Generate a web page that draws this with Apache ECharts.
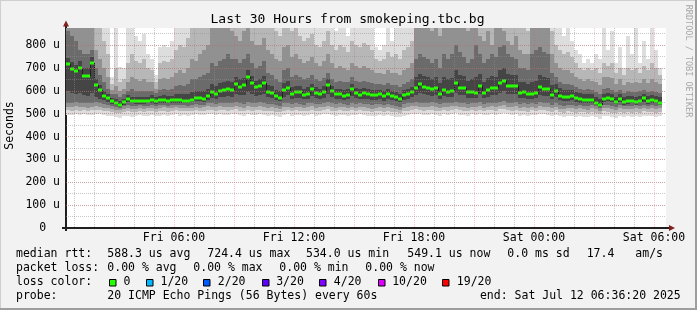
<!DOCTYPE html>
<html>
<head>
<meta charset="utf-8">
<title>smokeping.tbc.bg</title>
<script src="https://cdn.jsdelivr.net/npm/echarts@6.0.0/dist/echarts.min.js"></script>
<style>
  html, body { margin: 0; padding: 0; background: #f2f2f2; }
  #chart { width: 697px; height: 310px; }
</style>
</head>
<body>
<div id="chart"></div>
<script>
// x = minutes since Fri 00:00, one smoke column every 12 minutes
const viewStart = 36     // Fri 00:36
const viewEnd = 1836     // Sat 06:36
const stepMin = 12

// median rtt per column (us)
const median = [
  716, 694, 686, 700, 667, 667, 724, 624, 602, 579,
  569, 554, 547, 536, 550, 564, 557, 554, 554, 554,
  556, 562, 554, 560, 560, 557, 558, 558, 560, 557,
  557, 562, 570, 570, 564, 576, 595, 586, 598, 602,
  608, 605, 630, 619, 624, 661, 635, 616, 621, 633,
  594, 591, 579, 570, 602, 613, 586, 595, 594, 583,
  588, 607, 591, 585, 595, 626, 598, 585, 585, 577,
  582, 610, 591, 583, 589, 586, 583, 580, 585, 576,
  586, 579, 574, 566, 582, 586, 597, 613, 629, 619,
  614, 607, 613, 586, 605, 597, 600, 633, 614, 614,
  595, 595, 592, 621, 592, 604, 614, 611, 633, 642,
  621, 621, 621, 591, 595, 586, 586, 589, 617, 608,
  608, 582, 598, 579, 573, 573, 576, 569, 564, 562,
  562, 562, 549, 537, 564, 570, 564, 553, 566, 550,
  556, 557, 550, 557, 567, 556, 562, 557, 549
]

// smoke: spread of the 20 pings, outer pair (1) to inner pair (9), low / high
const low1 = [
  496, 494, 498, 495, 497, 493, 496, 500, 498, 494,
  490, 492, 486, 480, 488, 492, 485, 490, 495, 488,
  490, 494, 488, 492, 496, 490, 494, 497, 492, 495,
  490, 494, 498, 493, 496, 500, 497, 494, 498, 496,
  493, 497, 500, 495, 492, 498, 494, 496, 499, 495,
  490, 494, 488, 486, 495, 497, 492, 496, 494, 490,
  495, 498, 492, 494, 497, 500, 495, 492, 496, 494,
  490, 496, 493, 497, 494, 490, 488, 492, 495, 490,
  494, 490, 487, 484, 492, 495, 498, 500, 497, 494,
  496, 499, 495, 490, 497, 494, 498, 501, 496, 494,
  492, 497, 494, 499, 493, 496, 498, 494, 500, 502,
  497, 495, 498, 492, 494, 490, 496, 493, 499, 497,
  494, 490, 496, 488, 486, 492, 489, 485, 490, 487,
  484, 490, 486, 478, 492, 489, 486, 482, 490, 485,
  488, 485, 490, 486, 492, 488, 490, 486, 489
]
const high1 = [
  900, 900, 900, 900, 900, 900, 900, 900, 900, 900,
  900, 660, 900, 705, 700, 900, 900, 840, 820, 850,
  760, 740, 670, 790, 800, 790, 820, 900, 900, 900,
  900, 900, 900, 900, 900, 900, 900, 900, 900, 900,
  900, 900, 900, 900, 900, 900, 900, 900, 900, 900,
  900, 900, 900, 900, 900, 900, 900, 900, 900, 900,
  900, 900, 900, 900, 900, 900, 900, 860, 900, 900,
  840, 900, 900, 900, 900, 900, 900, 790, 780, 800,
  900, 820, 900, 900, 900, 900, 900, 900, 900, 900,
  900, 900, 900, 900, 900, 900, 900, 900, 900, 900,
  900, 900, 900, 900, 900, 900, 900, 900, 900, 900,
  900, 900, 900, 900, 900, 900, 900, 900, 900, 900,
  900, 900, 900, 880, 840, 900, 820, 780, 760, 720,
  740, 720, 760, 740, 880, 780, 860, 720, 790, 700,
  840, 760, 880, 720, 820, 740, 880, 780, 700
]
const low3 = [
  515, 513, 517, 514, 516, 512, 515, 518, 516, 512,
  510, 509, 505, 502, 508, 511, 506, 509, 512, 507,
  510, 513, 508, 511, 514, 509, 512, 515, 511, 513,
  510, 513, 516, 512, 514, 518, 516, 513, 517, 515,
  513, 516, 519, 514, 511, 517, 514, 515, 518, 514,
  510, 513, 508, 506, 514, 516, 511, 515, 513, 510,
  514, 517, 511, 513, 516, 519, 514, 511, 515, 513,
  510, 515, 512, 516, 513, 510, 507, 511, 514, 509,
  513, 509, 506, 503, 511, 514, 517, 519, 516, 513,
  515, 518, 514, 510, 516, 513, 517, 520, 515, 513,
  511, 516, 513, 518, 512, 515, 517, 513, 519, 521,
  516, 514, 517, 511, 513, 509, 515, 512, 518, 516,
  513, 509, 515, 507, 505, 511, 508, 504, 509, 506,
  503, 509, 505, 498, 511, 508, 505, 501, 509, 504,
  507, 504, 509, 505, 511, 507, 509, 505, 508
]
const high3 = [
  900, 900, 900, 900, 900, 900, 900, 900, 880, 820,
  760, 630, 700, 640, 650, 720, 760, 730, 720, 740,
  700, 690, 640, 720, 730, 725, 740, 780, 800, 790,
  830, 900, 880, 900, 900, 900, 900, 900, 900, 900,
  900, 900, 900, 900, 900, 900, 900, 900, 900, 900,
  900, 880, 860, 840, 900, 900, 860, 880, 840, 820,
  830, 850, 800, 790, 820, 860, 800, 780, 800, 790,
  770, 820, 800, 790, 810, 800, 780, 740, 730, 740,
  770, 750, 760, 740, 780, 790, 820, 900, 900, 900,
  900, 900, 900, 900, 900, 900, 900, 900, 900, 900,
  900, 900, 900, 900, 900, 900, 900, 900, 900, 900,
  900, 900, 900, 880, 880, 860, 900, 900, 900, 900,
  900, 860, 800, 780, 760, 770, 750, 720, 700, 690,
  700, 690, 700, 680, 720, 710, 720, 680, 700, 670,
  700, 690, 700, 680, 710, 690, 720, 700, 670
]
const low5 = [
  530, 528, 532, 530, 531, 527, 530, 534, 531, 527,
  524, 522, 518, 515, 521, 525, 520, 522, 526, 521,
  524, 527, 522, 525, 528, 523, 526, 529, 525, 527,
  524, 527, 530, 526, 529, 533, 531, 528, 532, 530,
  528, 531, 534, 529, 526, 532, 529, 530, 533, 529,
  525, 528, 523, 521, 529, 531, 526, 530, 528, 525,
  529, 532, 526, 528, 531, 534, 529, 526, 530, 528,
  525, 530, 527, 531, 528, 525, 522, 526, 529, 524,
  528, 524, 521, 518, 526, 529, 532, 534, 531, 528,
  530, 533, 529, 525, 531, 528, 532, 535, 530, 528,
  526, 531, 528, 533, 527, 530, 532, 528, 534, 536,
  531, 529, 532, 526, 528, 524, 530, 527, 533, 531,
  528, 524, 530, 522, 520, 526, 523, 519, 524, 521,
  518, 524, 520, 512, 526, 523, 520, 516, 524, 519,
  522, 519, 524, 520, 526, 522, 524, 520, 523
]
const high5 = [
  900, 900, 900, 900, 900, 900, 900, 780, 740, 700,
  660, 605, 620, 600, 610, 640, 660, 650, 645, 650,
  640, 640, 610, 650, 655, 650, 660, 680, 690, 680,
  700, 740, 730, 760, 780, 800, 900, 880, 900, 900,
  900, 860, 840, 820, 860, 880, 820, 800, 800, 830,
  780, 760, 740, 730, 790, 800, 750, 760, 740, 720,
  730, 750, 720, 710, 730, 760, 720, 700, 710, 700,
  690, 720, 710, 700, 710, 700, 690, 680, 680, 675,
  690, 680, 680, 670, 690, 700, 720, 900, 900, 900,
  880, 860, 880, 840, 900, 880, 900, 900, 900, 880,
  860, 880, 900, 840, 820, 860, 800, 880, 900, 860,
  820, 800, 840, 780, 760, 760, 900, 900, 900, 900,
  880, 760, 720, 700, 690, 690, 680, 660, 650, 645,
  650, 645, 640, 625, 660, 660, 655, 630, 650, 625,
  640, 635, 640, 635, 650, 635, 650, 640, 630
]
const low7 = [
  548, 546, 550, 548, 549, 545, 548, 552, 548, 542,
  536, 533, 528, 524, 532, 537, 532, 533, 536, 532,
  535, 538, 533, 536, 538, 534, 537, 539, 536, 538,
  535, 538, 542, 538, 540, 546, 548, 544, 548, 547,
  545, 548, 552, 547, 543, 550, 546, 547, 550, 546,
  541, 543, 537, 534, 545, 548, 542, 546, 544, 540,
  545, 548, 542, 544, 547, 551, 545, 541, 545, 543,
  540, 546, 543, 547, 544, 541, 538, 541, 544, 538,
  543, 538, 535, 531, 541, 545, 549, 552, 549, 546,
  547, 550, 545, 541, 548, 545, 549, 553, 547, 545,
  543, 548, 545, 551, 544, 547, 549, 545, 552, 555,
  549, 547, 550, 543, 545, 541, 547, 543, 550, 548,
  545, 540, 546, 537, 534, 540, 537, 533, 538, 535,
  532, 537, 533, 524, 539, 537, 533, 529, 537, 532,
  535, 532, 537, 533, 539, 535, 537, 533, 536
]
const high7 = [
  860, 840, 820, 780, 760, 760, 780, 700, 670, 640,
  610, 585, 585, 575, 585, 600, 610, 600, 600, 600,
  600, 600, 590, 605, 610, 605, 610, 620, 625, 620,
  630, 650, 650, 660, 670, 680, 720, 710, 730, 740,
  760, 740, 740, 720, 740, 760, 720, 700, 710, 730,
  680, 670, 650, 640, 690, 700, 660, 670, 660, 650,
  655, 670, 650, 645, 655, 680, 650, 640, 645, 640,
  640, 660, 645, 640, 645, 640, 635, 630, 630, 625,
  635, 625, 625, 615, 630, 640, 650, 740, 760, 750,
  740, 720, 740, 700, 760, 740, 760, 800, 770, 750,
  720, 740, 800, 760, 720, 740, 760, 750, 790, 800,
  760, 750, 740, 700, 700, 690, 760, 780, 790, 770,
  760, 680, 660, 640, 630, 630, 625, 615, 610, 605,
  608, 605, 595, 585, 610, 612, 605, 595, 605, 590,
  598, 595, 595, 598, 605, 595, 600, 596, 590
]
const low9 = [
  600, 590, 585, 590, 580, 578, 590, 575, 566, 558,
  552, 543, 536, 530, 540, 550, 545, 543, 544, 542,
  545, 549, 543, 548, 549, 546, 547, 548, 549, 546,
  546, 550, 556, 556, 552, 560, 570, 565, 572, 574,
  576, 575, 585, 580, 582, 595, 588, 578, 582, 588,
  572, 570, 562, 556, 574, 580, 565, 570, 569, 563,
  566, 576, 568, 564, 570, 585, 572, 564, 565, 560,
  563, 578, 568, 563, 566, 565, 562, 560, 563, 557,
  563, 559, 555, 550, 561, 565, 572, 580, 590, 585,
  582, 578, 582, 566, 577, 572, 575, 592, 581, 581,
  570, 570, 568, 586, 568, 575, 581, 580, 592, 598,
  586, 586, 586, 568, 570, 565, 565, 567, 584, 578,
  578, 563, 572, 560, 556, 556, 558, 553, 549, 548,
  548, 548, 538, 528, 550, 554, 550, 541, 551, 540,
  544, 545, 540, 545, 552, 544, 548, 545, 540
]
const high9 = [
  745, 725, 715, 730, 700, 700, 750, 650, 625, 600,
  585, 570, 565, 555, 565, 580, 575, 575, 575, 575,
  575, 580, 572, 578, 580, 578, 578, 585, 588, 585,
  588, 595, 600, 600, 598, 610, 630, 620, 635, 640,
  645, 640, 660, 650, 655, 690, 665, 645, 650, 665,
  625, 620, 605, 600, 635, 645, 615, 622, 620, 610,
  615, 630, 615, 610, 620, 650, 620, 608, 610, 605,
  610, 630, 612, 606, 612, 608, 605, 602, 605, 598,
  606, 600, 595, 588, 603, 606, 618, 660, 675, 665,
  660, 650, 660, 635, 660, 650, 655, 690, 670, 665,
  645, 650, 660, 675, 640, 655, 665, 660, 690, 700,
  675, 670, 668, 640, 640, 632, 640, 645, 670, 660,
  655, 625, 630, 612, 605, 603, 603, 596, 590, 588,
  588, 588, 575, 563, 588, 592, 585, 575, 588, 572,
  578, 578, 574, 578, 588, 576, 582, 578, 572
]

const xTickMinutes = [360, 720, 1080, 1440, 1800]
const xTickLabels = ['Fri 06:00', 'Fri 12:00', 'Fri 18:00', 'Sat 00:00', 'Sat 06:00']

const rttStats = ['588.3 us avg', '724.4 us max', '534.0 us min', '549.1 us now', '0.0 ms sd', '17.4', 'am/s']
const lossStats = ['0.00 % avg', '0.00 % max', '0.00 % min', '0.00 % now']
const lossLevels = ['0', '1/20', '2/20', '3/20', '4/20', '10/20', '19/20']
const lossColors = ['#26ff00', '#00b8ff', '#0059ff', '#5e00ff', '#7e00ff', '#dd00ff', '#ff0000']

const smokeColors = ['#dddddd', '#b7b7b7', '#919191', '#6b6b6b', '#454545']
const mono = '"DejaVu Sans Mono", monospace'
const gridGray = 'rgba(143,143,143,0.5)'
const gridRed = 'rgba(222,79,79,0.3)'

const minuteCats = []
for (let m = viewStart; m <= viewEnd; m++) minuteCats.push(m)

const smokeData = median.map((m, k) => [
  k * stepMin, low1[k], high1[k], low3[k], high3[k], low5[k], high5[k], low7[k], high7[k], low9[k], high9[k]
])
const medianData = median.map((m, k) => [k * stepMin, m, k ? median[k - 1] : m])

function colBounds(api, x) {
  return [Math.round(api.coord([x, 0])[0]), Math.round(api.coord([x + stepMin, 0])[0])]
}

function renderSmoke(params, api) {
  const x = api.value(0)
  const [left, right] = colBounds(api, x)
  const children = smokeColors.map((color, b) => {
    const lo = Math.round(api.coord([x, api.value(1 + b * 2)])[1])
    const hi = Math.round(api.coord([x, api.value(2 + b * 2)])[1])
    return {
      type: 'rect',
      shape: { x: left, y: hi, width: right - left, height: lo - hi },
      style: { fill: color }
    }
  })
  return { type: 'group', children }
}

function renderMedian(params, api) {
  const x = api.value(0)
  const [left, right] = colBounds(api, x)
  const y = Math.round(api.coord([x, api.value(1)])[1])
  const yPrev = Math.round(api.coord([x, api.value(2)])[1])
  return {
    type: 'group',
    children: [
      {
        type: 'line',
        shape: { x1: left + 0.5, y1: yPrev, x2: left + 0.5, y2: y },
        style: { stroke: '#202020', lineWidth: 1 }
      },
      {
        type: 'rect',
        shape: { x: left, y: y - 1.5, width: right - left, height: 3 },
        style: { fill: lossColors[0] }
      }
    ]
  }
}

function txt(text, x, y, extra) {
  return {
    type: 'text', x, y, silent: true,
    style: Object.assign({ text, font: '11.5px ' + mono, fill: '#000', textAlign: 'left', verticalAlign: 'middle' }, extra || {})
  }
}

const graphics = [
  // frame
  { type: 'rect', shape: { x: 0, y: 0, width: 697, height: 1 }, style: { fill: '#cfcfcf' } },
  { type: 'rect', shape: { x: 0, y: 0, width: 1, height: 310 }, style: { fill: '#cfcfcf' } },
  { type: 'rect', shape: { x: 0, y: 308, width: 697, height: 2 }, style: { fill: '#9e9e9e' } },
  { type: 'rect', shape: { x: 695, y: 0, width: 2, height: 310 }, style: { fill: '#9e9e9e' } },
  txt('Last 30 Hours from smokeping.tbc.bg', 347.5, 19.5, { font: '13px ' + mono, textAlign: 'center' }),
  Object.assign(txt('Seconds', 10.5, 125.5, { textAlign: 'center' }), { rotation: Math.PI / 2 }),
  Object.assign(txt('RRDTOOL / TOBI OETIKER', 688, 61, { font: '8.5px ' + mono, fill: '#a8a8a8', textAlign: 'center' }), { rotation: -Math.PI / 2 }),
  // axis lines and arrows
  { type: 'line', shape: { x1: 66, y1: 231, x2: 66, y2: 25 }, style: { stroke: '#1f1f1f', lineWidth: 2 } },
  { type: 'line', shape: { x1: 62, y1: 228, x2: 670, y2: 228 }, style: { stroke: '#1f1f1f', lineWidth: 2 } },
  { type: 'polygon', shape: { points: [[63, 26.5], [69, 26.5], [66, 20.5]] }, style: { fill: '#801f1f' } },
  { type: 'polygon', shape: { points: [[669, 225], [669, 231], [675, 228]] }, style: { fill: '#801f1f' } },
  // legend
  txt('median rtt:', 16, 254.5),
  txt('packet loss:', 16, 268.5),
  txt('loss color:', 16, 282.5),
  txt('probe:', 16, 296.5),
  txt('20 ICMP Echo Pings (56 Bytes) every 60s', 107.3, 296.5),
  txt('end: Sat Jul 12 06:36:20 2025', 680.7, 296.5, { textAlign: 'right' })
]
const rttX = [107.3, 207.3, 306, 407.3, 507.3, 586.7, 635.3]
rttStats.forEach((s, i) => graphics.push(txt(s, rttX[i], 254.5)))
const lossX = [107.3, 193.3, 279.3, 365.3]
lossStats.forEach((s, i) => graphics.push(txt(s, lossX[i], 268.5)))
const boxX = [109, 146, 203.3, 261.7, 319.3, 377.7, 442.3]
lossLevels.forEach((s, i) => {
  graphics.push({
    type: 'rect',
    shape: { x: Math.round(boxX[i]) + 0.5, y: 279.5, width: 6.5, height: 6.5 },
    style: { fill: lossColors[i], stroke: '#000', lineWidth: 1 }
  })
  graphics.push(txt(s, boxX[i] + 14.5, 282.5))
})

const chart = echarts.init(document.getElementById('chart'), null, { renderer: 'canvas' })
chart.setOption({
  backgroundColor: '#f2f2f2',
  animation: false,
  grid: {
    left: 66, top: 28, width: 600, height: 200,
    show: true, backgroundColor: '#ffffff', borderWidth: 0,
    outerBoundsMode: 'none'
  },
  xAxis: [
    {
      type: 'category',
      data: minuteCats,
      boundaryGap: false,
      position: 'bottom',
      z: 5,
      axisLine: { show: false },
      axisTick: { show: false },
      axisLabel: {
        interval: (i) => xTickMinutes.includes(viewStart + i),
        formatter: (v) => xTickLabels[xTickMinutes.indexOf(Number(v))] || '',
        margin: 4,
        color: '#000',
        fontFamily: mono,
        fontSize: 11.5
      },
      splitLine: {
        show: true,
        interval: (i) => (viewStart + i) % 180 === 0,
        lineStyle: { color: gridRed, width: 1, type: [1, 1] }
      }
    },
    {
      type: 'category',
      data: minuteCats,
      boundaryGap: false,
      position: 'top',
      z: 4,
      axisLine: { show: false },
      axisTick: { show: false },
      axisLabel: { show: false },
      splitLine: {
        show: true,
        interval: (i) => (viewStart + i) % 60 === 0 && (viewStart + i) % 180 !== 0,
        lineStyle: { color: gridGray, width: 1, type: [1, 1] }
      }
    }
  ],
  yAxis: [
    {
      type: 'value',
      min: 0, max: 875, interval: 100,
      position: 'left',
      z: 5,
      axisLine: { show: false },
      axisTick: { show: false },
      axisLabel: {
        formatter: (v) => (v === 0 ? '0  ' : v + ' u'),
        showMaxLabel: false,
        margin: 6,
        color: '#000',
        fontFamily: mono,
        fontSize: 11.5
      },
      splitLine: {
        show: true, showMinLine: false, showMaxLine: false,
        lineStyle: { color: gridRed, width: 1, type: [1, 1] }
      }
    },
    {
      type: 'value',
      min: 0, max: 875, interval: 50,
      position: 'right',
      z: 4,
      axisLine: { show: false },
      axisTick: { show: false },
      axisLabel: { show: false },
      splitLine: {
        show: true, showMinLine: false, showMaxLine: false,
        lineStyle: { color: gridGray, width: 1, type: [1, 1] }
      }
    }
  ],
  series: [
    {
      name: 'smoke',
      type: 'custom',
      xAxisIndex: 0, yAxisIndex: 0,
      clip: true, silent: true, z: 2,
      renderItem: renderSmoke,
      data: smokeData
    },
    {
      name: 'median rtt',
      type: 'custom',
      xAxisIndex: 0, yAxisIndex: 0,
      clip: true, silent: true, z: 3,
      renderItem: renderMedian,
      data: medianData
    }
  ],
  graphic: graphics
})
</script>
</body>
</html>
